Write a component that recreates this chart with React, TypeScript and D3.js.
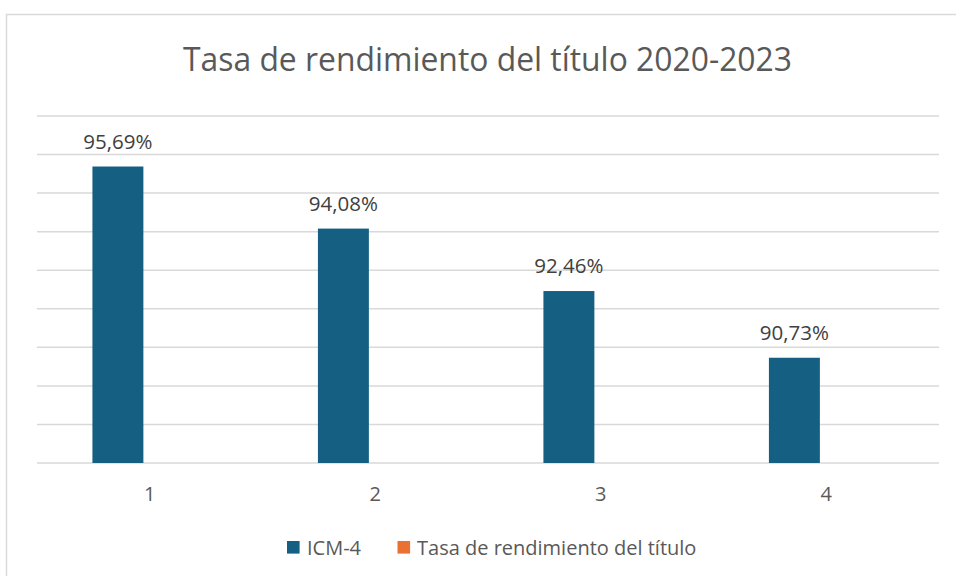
import React from "react";
import * as d3 from "d3";

const categories = ["1", "2", "3", "4"];
const seriesNames = ["ICM-4", "Tasa de rendimiento del título"];
const icmValues = [0.9569, 0.9408, 0.9246, 0.9073];
const tasaValues: (number | null)[] = [null, null, null, null];
const dataLabels = ["95,69%", "94,08%", "92,46%", "90,73%"];
const seriesColors = ["#156082", "#E97132"];
const title = "Tasa de rendimiento del título 2020-2023";

const W = 956;
const H = 576;
const FONT = "'Open Sans', 'Noto Sans', sans-serif";

export default function App() {
  const x0 = d3.scaleBand<string>().domain(categories).range([37, 939]).paddingInner(0).paddingOuter(0);
  const x1 = d3
    .scaleBand<string>()
    .domain(seriesNames)
    .range([0, x0.bandwidth()])
    .paddingInner(0.2)
    .paddingOuter(0.87);
  const y = d3.scaleLinear().domain([0.88, 0.97]).range([463, 116]);
  const ticks = y.ticks(9);
  const series = [icmValues, tasaValues];

  return (
    <svg
      width={W}
      height={H}
      style={{ position: "absolute", left: 0, top: 0, background: "#fff" }}
      fontFamily={FONT}
    >
      <rect x={0} y={0} width={W} height={H} fill="#fff" />
      <rect x={6.5} y={14.5} width={W + 20} height={H + 20} fill="none" stroke="#d9d9d9" strokeWidth={1.5} />
      <text
        x={487.5}
        y={71}
        textAnchor="middle"
        fontSize={33}
        fill="#595959"
        textLength={609}
        lengthAdjust="spacingAndGlyphs"
      >
        {title}
      </text>
      {ticks.map((t) => (
        <line key={t} x1={37} x2={939} y1={y(t)} y2={y(t)} stroke="#d9d9d9" strokeWidth={1.5} />
      ))}
      {categories.map((c, i) =>
        series.map((vals, s) => {
          const v = vals[i];
          if (v == null) return null;
          const bx = (x0(c) ?? 0) + (x1(seriesNames[s]) ?? 0);
          return (
            <rect
              key={c + s}
              x={bx}
              y={y(v)}
              width={x1.bandwidth()}
              height={y(0.88) - y(v)}
              fill={seriesColors[s]}
            />
          );
        })
      )}
      {categories.map((c, i) => {
        const bx = (x0(c) ?? 0) + (x1(seriesNames[0]) ?? 0) + x1.bandwidth() / 2;
        return (
          <text key={"l" + c} x={bx} y={y(icmValues[i]) - 18} textAnchor="middle" fontSize={20.5} fill="#404040">
            {dataLabels[i]}
          </text>
        );
      })}
      {categories.map((c) => (
        <text
          key={"a" + c}
          x={(x0(c) ?? 0) + x0.bandwidth() / 2}
          y={501}
          textAnchor="middle"
          fontSize={20}
          fill="#595959"
        >
          {c}
        </text>
      ))}
      <rect x={287} y={541} width={12.6} height={12.6} fill={seriesColors[0]} />
      <text x={307} y={555} fontSize={20} fill="#595959">
        {seriesNames[0]}
      </text>
      <rect x={397.5} y={541} width={12.6} height={12.6} fill={seriesColors[1]} />
      <text x={417} y={555} fontSize={20} fill="#595959">
        {seriesNames[1]}
      </text>
    </svg>
  );
}
